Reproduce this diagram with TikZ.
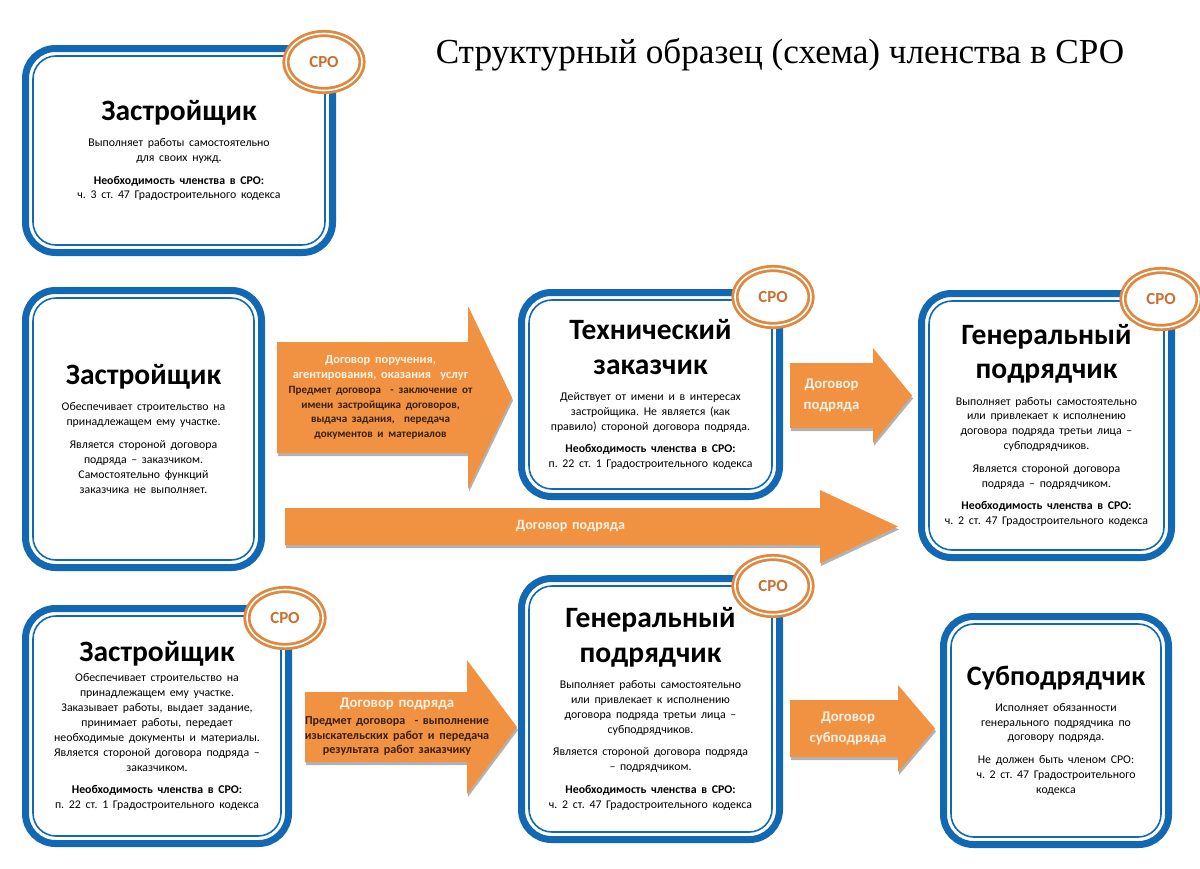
\documentclass[tikz,border=0pt]{standalone}
\usepackage{fontspec}
\setmainfont{Carlito}[WordSpace=0.8]
\newfontfamily\headfont{Liberation Serif}
\usepackage{tikz}
\usetikzlibrary{positioning,shapes.geometric,shadows,backgrounds}
\definecolor{sroblue}{RGB}{18,104,178}
\definecolor{sroorange}{RGB}{241,146,66}
\definecolor{ringorange}{RGB}{222,136,64}
\definecolor{ringtext}{RGB}{200,112,48}
\definecolor{darktext}{RGB}{55,32,14}
\definecolor{lighttext}{RGB}{253,242,228}
\newlength\px \setlength\px{0.025cm}
\newcommand\ttl{\fontsize{21}{24.5}\selectfont\bfseries}
\newcommand\txt{\fontsize{8.4}{10.6}\selectfont}
\newcommand\tgap{\vspace{8pt}}
\newcommand\pgap{\vspace{5.5pt}}
% block arrow round a shaft node: #1 node, #2 head extension, #3 head length
\newcommand\arrowbody[3]{%
  \begin{pgfonlayer}{background}
  \fill[arrowfill] (#1.north west) -- (#1.north east) -- ([yshift=#2]#1.north east)
    -- ([xshift=#3]#1.east) -- ([yshift=-#2]#1.south east) -- (#1.south east)
    -- (#1.south west) -- cycle;
  \end{pgfonlayer}}
\frenchspacing

\begin{document}
\begin{tikzpicture}[x=\px, y=-\px,
  box/.style={draw=sroblue, line width=7\px, fill=white, rounded corners=30\px,
    outer sep=0pt, inner sep=0pt, align=center},
  innerframe/.style={draw=sroblue, line width=1.6\px, rounded corners=23\px},
  ring/.style={ellipse, draw=ringorange, double=white, double distance=1.6\px,
    line width=2.8\px, fill=white, minimum width=76\px, minimum height=57\px,
    inner sep=0pt, text=ringtext, font=\fontsize{12}{12}\selectfont\bfseries},
  shaft/.style={inner sep=0pt, outer sep=0pt},
  arrowtext/.style={inner sep=0pt, align=center, text width=#1},
  arrowfill/.style={fill=sroorange, drop shadow={shadow xshift=1\px,
    shadow yshift=-3\px, fill=black, opacity=.3}}]
  \useasboundingbox (0,0) rectangle (1200,868);

  % title
  \node[font=\headfont\fontsize{25}{30}\selectfont] (title) at (780,55)
    {Структурный образец (схема) членства в СРО};

  % row 1
  \node[box, minimum width=307\px, minimum height=204\px, text width=290\px] (zastr1) at (179,150.5)
    {{\ttl Застройщик\par}\tgap
     {\txt Выполняет работы самостоятельно\\для своих нужд.\par}\pgap
     {\txt\textbf{Необходимость членства в СРО:}\\ч. 3 ст. 47 Градостроительного кодекса\par}};

  % row 2
  \node[box, minimum width=236\px, minimum height=277\px, text width=220\px] (zastr2) at (143.5,429)
    {{\ttl Застройщик\par}\tgap
     {\txt Обеспечивает строительство на\\принадлежащем ему участке.\par}\pgap
     {\txt Является стороной договора\\подряда – заказчиком.\\Самостоятельно функций\\заказчика не выполняет.\par}};
  \node[box, minimum width=258\px, minimum height=204\px, text width=245\px] (tehzak) at (650.5,394.5)
    {{\ttl Технический\\заказчик\par}\tgap
     {\txt Действует от имени и в интересах\\застройщика. Не является (как\\правило) стороной договора подряда.\par}\pgap
     {\txt\textbf{Необходимость членства в СРО:}\\п. 22 ст. 1 Градостроительного кодекса\par}};
  \node[box, minimum width=250\px, minimum height=264\px, text width=236\px] (genpod1) at (1046.5,425.5)
    {{\ttl Генеральный\\подрядчик\par}\tgap
     {\txt Выполняет работы самостоятельно\\или привлекает к исполнению\\договора подряда третьи лица –\\субподрядчиков.\par}\pgap
     {\txt Является стороной договора\\подряда – подрядчиком.\par}\pgap
     {\txt\textbf{Необходимость членства в СРО:}\\ч. 2 ст. 47 Градостроительного кодекса\par}};

  % row 3
  \node[box, minimum width=263\px, minimum height=235\px, text width=250\px] (zastr3) at (157,726)
    {{\ttl Застройщик\par}\vspace{4pt}
     {\txt Обеспечивает строительство на\\принадлежащем ему участке.\\Заказывает работы, выдает задание,\\принимает работы, передает\\необходимые документы и материалы.\\Является стороной договора подряда –\\заказчиком.\par}\pgap
     {\txt\textbf{Необходимость членства в СРО:}\\п. 22 ст. 1 Градостроительного кодекса\par}};
  \node[box, minimum width=258\px, minimum height=261\px, text width=245\px] (genpod2) at (650.5,709)
    {{\ttl Генеральный\\подрядчик\par}\tgap
     {\txt Выполняет работы самостоятельно\\или привлекает к исполнению\\договора подряда третьи лица –\\субподрядчиков.\par}\pgap
     {\txt Является стороной договора подряда\\– подрядчиком.\par}\pgap
     {\txt\textbf{Необходимость членства в СРО:}\\ч. 2 ст. 47 Градостроительного кодекса\par}};
  \node[box, minimum width=225\px, minimum height=228\px, text width=212\px] (subpod) at (1056,730.5)
    {{\fontsize{20}{24}\selectfont\bfseries Субподрядчик\par}\tgap
     {\txt Исполняет обязанности\\генерального подрядчика по\\договору подряда.\par}\pgap
     {\txt Не должен быть членом СРО:\\ч. 2 ст. 47 Градостроительного\\кодекса\par}};

  \foreach \b in {zastr1,zastr2,tehzak,genpod1,zastr3,genpod2,subpod}
    \draw[innerframe] ([xshift=7.5\px,yshift=-7.5\px]\b.north west)
      rectangle ([xshift=-7.5\px,yshift=7.5\px]\b.south east);

  % SRO marks
  \node[ring] (sro1) at (324,62) {СРО};
  \node[ring] (sro2) at (773,297) {СРО};
  \node[ring] (sro3) at (1161,299) {СРО};
  \node[ring] (sro4) at (285,618) {СРО};
  \node[ring] (sro5) at (773,586) {СРО};

  % contracts
  \node[shaft, minimum width=191\px, minimum height=111\px] (dogpor) at (372.5,397.5) {};
  \arrowbody{dogpor}{36\px}{44\px}
  \node[arrowtext=240\px] (dogportxt) at ([xshift=8\px]dogpor.center)
    {{\fontsize{8.8}{10.6}\selectfont\bfseries\color{lighttext}Договор поручения,\\агентирования, оказания\ \ услуг\par}
     {\fontsize{7.9}{10.6}\selectfont\bfseries\color{darktext}Предмет договора\ \ - заключение от\\имени застройщика договоров,\\выдача задания,\ \ передача\\документов и материалов\par}};

  \node[shaft, minimum width=83\px, minimum height=65\px] (dogpod1) at (831.5,395.5) {};
  \arrowbody{dogpod1}{15\px}{39\px}
  \node[arrowtext=90\px] (dogpod1txt) at (dogpod1.center)
    {{\fontsize{10.5}{15}\selectfont\bfseries\color{lighttext}Договор\\подряда\par}};

  \node[shaft, minimum width=535\px, minimum height=37\px] (dogpod2) at (552.5,526.5) {};
  \arrowbody{dogpod2}{18\px}{78\px}
  \node[arrowtext=200\px] (dogpod2txt) at ([xshift=18\px]dogpod2.center)
    {{\fontsize{10}{12}\selectfont\bfseries\color{lighttext}Договор подряда\par}};

  \node[shaft, minimum width=162\px, minimum height=70\px] (dogpod3) at (386,727) {};
  \arrowbody{dogpod3}{32\px}{50\px}
  \node[arrowtext=240\px] (dogpod3txt) at ([xshift=11\px]dogpod3.center)
    {{\fontsize{10.5}{12}\selectfont\bfseries\color{lighttext}Договор подряда\par}\vspace{1pt}
     {\fontsize{8.6}{10.6}\selectfont\bfseries\color{darktext}Предмет договора\ \ - выполнение\\изыскательских работ и передача\\результата работ заказчику\par}};

  \node[shaft, minimum width=108\px, minimum height=57\px] (dogsub) at (844,728.5) {};
  \arrowbody{dogsub}{15\px}{37\px}
  \node[arrowtext=110\px] (dogsubtxt) at ([xshift=4\px]dogsub.center)
    {{\fontsize{10.5}{15}\selectfont\bfseries\color{lighttext}Договор\\субподряда\par}};
\end{tikzpicture}
\end{document}
